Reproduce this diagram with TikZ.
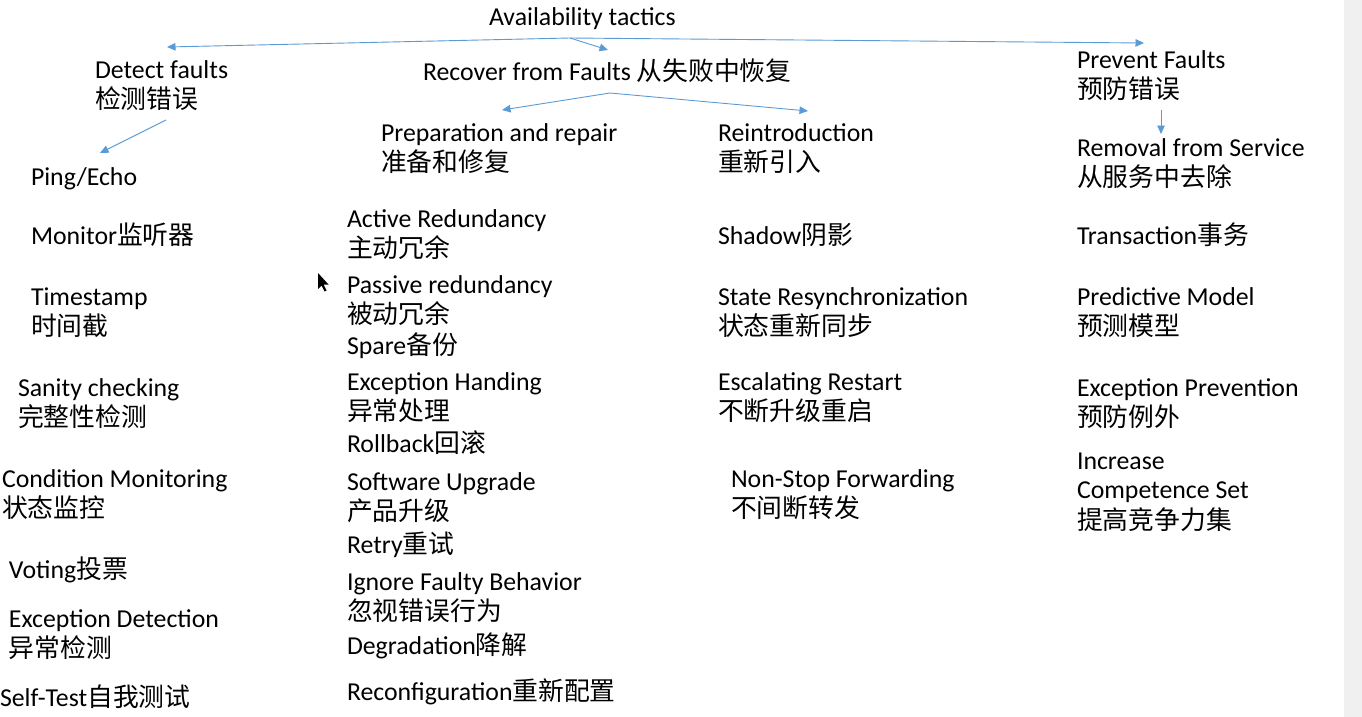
\documentclass[tikz,border=0pt]{standalone}
\usepackage{fontspec}
\setmainfont{Carlito}
\newfontfamily\cjk{Noto Sans CJK SC}
\usetikzlibrary{arrows.meta}
\definecolor{arrowblue}{HTML}{5B9BD5}
\definecolor{stripgrey}{HTML}{F0F0F0}
\newcommand{\mlines}[1]{\begin{tabular}[t]{@{}l@{}}#1\end{tabular}}
\tikzset{
  lbl/.style={anchor=base west, inner sep=0pt, outer sep=0pt, font=\fontsize{25.8}{29.5}\selectfont},
  conn/.style={draw=arrowblue, line width=0.9pt, -{Triangle[length=8.5pt,width=7.5pt]}, arrowblue},
}
\begin{document}
\begin{tikzpicture}[x=1pt,y=-1pt]
\useasboundingbox (0,0) rectangle (1362,717);
\fill[white] (0,0) rectangle (1362,717);
\fill[stripgrey] (1344,0) rectangle (1362,717);

\begin{scope}[shift={(0,1)}]
% headings
\node[lbl] (root) at (489,25) {Availability tactics};
\node[lbl] (detect) at (95,77) {\mlines{Detect faults\\{\cjk 检测错误}}};
\node[lbl] (recover) at (423,80) {Recover from Faults {\cjk 从失败中恢复}};
\node[lbl] (prevent) at (1077,67) {\mlines{Prevent Faults\\{\cjk 预防错误}}};
\node[lbl] (prep) at (381,140) {\mlines{Preparation and repair\\{\cjk 准备和修复}}};
\node[lbl] (reintro) at (718,140) {\mlines{Reintroduction\\{\cjk 重新引入}}};
\node[lbl] (removal) at (1077,155) {\mlines{Removal from Service\\{\cjk 从服务中去除}}};

% detect column
\node[lbl] (ping) at (31,184) {Ping/Echo};
\node[lbl] (monitor) at (31,243) {Monitor{\cjk 监听器}};
\node[lbl] (timestamp) at (31,304) {\mlines{Timestamp\\{\cjk 时间截}}};
\node[lbl] (sanity) at (18,395) {\mlines{Sanity checking\\{\cjk 完整性检测}}};
\node[lbl] (condition) at (2,486) {\mlines{Condition Monitoring\\{\cjk 状态监控}}};
\node[lbl] (voting) at (9,577) {Voting{\cjk 投票}};
\node[lbl] (excdet) at (9,626) {\mlines{Exception Detection\\{\cjk 异常检测}}};
\node[lbl] (selftest) at (0,705) {Self-Test{\cjk 自我测试}};

% preparation column
\node[lbl] (active) at (347,226) {\mlines{Active Redundancy\\{\cjk 主动冗余}}};
\node[lbl] (passive) at (347,292) {\mlines{Passive redundancy\\{\cjk 被动冗余}}};
\node[lbl] (spare) at (347,353) {Spare{\cjk 备份}};
\node[lbl] (exchand) at (347,389) {\mlines{Exception Handing\\{\cjk 异常处理}}};
\node[lbl] (rollback) at (347,451) {Rollback{\cjk 回滚}};
\node[lbl] (upgrade) at (347,489) {\mlines{Software Upgrade\\{\cjk 产品升级}}};
\node[lbl] (retry) at (347,552) {Retry{\cjk 重试}};
\node[lbl] (ignore) at (347,589) {\mlines{Ignore Faulty Behavior\\{\cjk 忽视错误行为}}};
\node[lbl] (degrade) at (347,653) {Degradation{\cjk 降解}};
\node[lbl] (reconf) at (347,699) {Reconfiguration{\cjk 重新配置}};

% reintroduction column
\node[lbl] (shadow) at (718,243) {Shadow{\cjk 阴影}};
\node[lbl] (stateres) at (718,304) {\mlines{State Resynchronization\\{\cjk 状态重新同步}}};
\node[lbl] (escal) at (718,389) {\mlines{Escalating Restart\\{\cjk 不断升级重启}}};
\node[lbl] (nonstop) at (731,486) {\mlines{Non-Stop Forwarding\\{\cjk 不间断转发}}};

% prevent column
\node[lbl] (trans) at (1077,243) {Transaction{\cjk 事务}};
\node[lbl] (predict) at (1077,304) {\mlines{Predictive Model\\{\cjk 预测模型}}};
\node[lbl] (excprev) at (1077,395) {\mlines{Exception Prevention\\{\cjk 预防例外}}};
\node[lbl] (increase) at (1077,468) {\mlines{Increase\\Competence Set\\{\cjk 提高竞争力集}}};
\end{scope}

% connector points
\coordinate (apexA) at (570,38);
\coordinate (tipDetect) at (167,47);
\coordinate (tipRecover) at (608,50);
\coordinate (tipPrevent) at (1144,43);
\coordinate (apexB) at (610,93);
\coordinate (tipPrep) at (502,110);
\coordinate (tipReintro) at (808,111);
\coordinate (fromDetect) at (166,120);
\coordinate (tipPing) at (100,153);
\coordinate (fromPrevent) at (1161,110);
\coordinate (tipRemoval) at (1161,134);

\draw[conn] (apexA) -- (tipDetect);
\draw[conn] (apexA) -- (tipRecover);
\draw[conn] (apexA) -- (tipPrevent);
\draw[conn] (apexB) -- (tipPrep);
\draw[conn] (apexB) -- (tipReintro);
\draw[conn] (fromDetect) -- (tipPing);
\draw[conn] (fromPrevent) -- (tipRemoval);

% mouse cursor
\fill[black] (318,273) -- (318,289) -- (321.5,285.5) -- (324.5,291.5) -- (326.5,290.5) -- (323.5,284.5) -- (328.5,284.5) -- cycle;
\end{tikzpicture}
\end{document}
